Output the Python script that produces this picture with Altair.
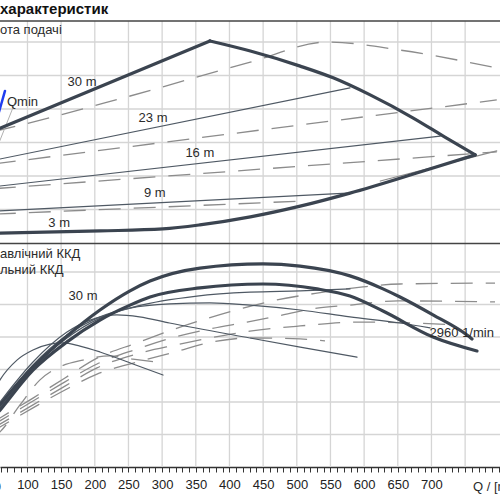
import altair as alt
import pandas as pd

FONT = "Liberation Sans"
Q_DOMAIN = [59.2, 801.8]
H_DOMAIN = [-66.87, 72.54]
ETA_DOMAIN = [0, 143.69]

# ---------------- upper panel (head) ----------------
envTop_Q = [50, 371];  envTop_H = [33.5, 60.3]
envR_Q = [371, 431, 505, 554, 609, 673, 720, 765]
envR_H = [60.3, 57.3, 52.8, 49.3, 44.2, 37.3, 31.6, 26.3]
envB_Q = [50, 208, 301, 356, 431, 505, 579, 683, 765]
envB_H = [2.9, 3.6, 4.2, 5.4, 7.8, 11.0, 14.9, 21.2, 26.3]

h23_Q = [50, 579];  h23_H = [24.7, 46.3]
h16_Q = [50, 713];  h16_H = [16.8, 31.9]
h9_Q = [50, 575];   h9_H = [9.5, 14.9]

du1_Q = [50, 84, 242, 431, 546, 653, 791]; du1_H = [33.3, 34.9, 43.3, 54.0, 60.0, 57.6, 52.5]
du2_Q = [50, 797]; du2_H = [23.6, 42.7]
du3_Q = [50, 797]; du3_H = [16.2, 27.2]
du4_Q = [50, 505]; du4_H = [8.6, 12.5]
gray_Q = [624, 797]; gray_H = [18.5, 27.5]
slant_Q = [83, 54.7]; slant_H = [42.7, 28.4]
qmin_Q = [66.6, 57.7]; qmin_H = [45.4, 39.1]

# ---------------- lower panel (efficiency) ----------------
A_Q = [44.3, 59.2, 108.2, 158.7, 207.7, 252.3, 282, 356.2, 449.8, 504.8, 579, 628, 653.3, 702.3, 752.8, 760.2]
A_E = [15.1, 19.1, 30.8, 40.3, 48.3, 54.2, 57.2, 61.2, 62.5, 61.8, 58.8, 54.8, 52.3, 46.8, 40.6, 39.4]
B_Q = [44.3, 59.2, 108.2, 158.7, 207.7, 252.3, 282, 356.2, 449.8, 530, 579, 628, 702.3, 767.6]
B_E = [13.8, 17.5, 29.8, 38.5, 45.2, 49.8, 52.3, 55.1, 56.3, 54.8, 52.6, 48.0, 40.0, 35.7]

C1_Q = [47.3, 59.2, 84.4, 108.2, 133.5, 152.8, 178, 207.7, 256.7, 301.3]
C1_E = [22.2, 26.8, 32.9, 36.0, 37.8, 38.2, 37.2, 35.4, 31.7, 28.3]
C2_Q = [44.3, 59.2, 108.2, 158.7, 192.9, 232.9, 266.3, 311, 430.5, 505, 589.4]
C2_E = [16.0, 20.0, 32.3, 41.5, 45.2, 46.8, 46.2, 44.3, 39.7, 36.9, 33.8]
C3_Q = [44.3, 59.2, 108.2, 158.7, 207.7, 252.3, 311, 371, 430.5, 505, 579, 653.3, 698]
C3_E = [15.0, 19.1, 31.4, 40.6, 46.2, 48.9, 50.2, 50.5, 49.8, 48.3, 46.2, 44.3, 42.8]
C4_Q = [44.3, 59.2, 108.2, 158.7, 207.7, 262.7, 351.7, 430.5, 505, 579]
C4_E = [14.5, 18.2, 30.5, 39.7, 45.8, 49.5, 52.6, 53.8, 54.2, 54.8]

D1_Q = [44.3, 59.2, 108.2, 155.7, 203.3, 262.7, 319.1, 368.1, 420.1, 470.6, 530, 598.3, 653.3, 794.4]
D1_E = [13.2, 15.1, 21.2, 27.4, 33.5, 38.2, 42.5, 45.8, 48.9, 51.4, 53.5, 55.4, 56.3, 56.6]
D2_Q = [44.3, 59.2, 108.2, 155.7, 203.3, 262.7, 319.1, 371, 426, 479.5, 530, 579, 650.3, 794.4]
D2_E = [12.4, 14.2, 20.3, 26.2, 31.7, 36.3, 40.0, 42.5, 44.6, 46.8, 48.9, 49.8, 51.1, 50.8]
D3_Q = [44.3, 59.2, 108.2, 155.7, 203.3, 262.7, 319.1, 371, 430.5, 505, 589.4, 672.6, 735]
D3_E = [11.4, 13.2, 19.1, 24.9, 30.5, 34.8, 37.5, 39.7, 41.8, 43.4, 44.6, 44.3, 43.7]
D4_Q = [44.3, 59.2, 108.2, 155.7, 203.3, 262.7, 319.1, 368.1, 430.5, 505, 541.9]
D4_E = [10.5, 12.3, 18.2, 23.7, 28.6, 32.3, 35.4, 38.2, 39.7, 39.4, 38.8]
D5_Q = [44.3, 59.2, 88.9, 118.6, 151.3, 182.5, 222.6, 256.7, 301.3]
D5_E = [8.5, 10.8, 19.1, 26.8, 31.1, 32.9, 34.2, 33.2, 32.0]

grid_Q = [100, 150, 200, 250, 300, 350, 400, 450, 500, 550, 600, 650, 700, 750]
grid_H = [10, 20, 30, 40, 50, 60]
grid_E = [10, 20, 30, 40, 50, 60]
tick_Q = list(range(60, 801, 10))


def long(d):
    rows = []
    for name, (qs, vs) in d.items():
        for i, (q, v) in enumerate(zip(qs, vs)):
            rows.append({"s": name, "i": i, "Q": q, "v": v})
    return pd.DataFrame(rows)


x_axis = alt.Axis(values=tick_Q, labelExpr="(datum.value % 50 == 0 && datum.value >= 100 && datum.value <= 700) ? datum.label : ''",
                  tickSize=5, tickColor="#333333", tickWidth=1, domainColor="#333333", domainWidth=1.5,
                  labelFontSize=13, labelColor="#222222", labelFont=FONT, labelPadding=6, grid=False,
                  title=None, labelOverlap=False, labelFlush=False)
X = alt.X("Q:Q", scale=alt.Scale(domain=Q_DOMAIN, nice=False, zero=False), axis=x_axis)
YH = alt.Y("v:Q", scale=alt.Scale(domain=H_DOMAIN, nice=False, zero=False), axis=None)
YE = alt.Y("v:Q", scale=alt.Scale(domain=ETA_DOMAIN, nice=False, zero=False), axis=None)

GRID = "#d5d5d5"
DARK = "#3b4450"
THIN = "#4f5964"
DASH = "#8c8c8c"


def lines(d, yenc, color, width, dash=None, interp="linear"):
    kw = dict(color=color, strokeWidth=width, clip=True, interpolate=interp, strokeCap="round")
    if dash:
        kw["strokeDash"] = dash
        kw["strokeCap"] = "butt"
    return alt.Chart(long(d)).mark_line(**kw).encode(x=X, y=yenc, detail="s:N", order="i:Q")


vgrid = alt.Chart(pd.DataFrame({"Q": grid_Q, "y0": 0, "y1": 137.2})).mark_rule(color=GRID, strokeWidth=1.3).encode(
    x=X, y=alt.Y("y0:Q", scale=alt.Scale(domain=ETA_DOMAIN, nice=False, zero=False), axis=None), y2="y1")
hgrid_up = alt.Chart(pd.DataFrame({"v": grid_H})).mark_rule(color=GRID, strokeWidth=1.3).encode(y=YH)
hgrid_lo = alt.Chart(pd.DataFrame({"v": grid_E})).mark_rule(color=GRID, strokeWidth=1.3).encode(y=YE)
borders = alt.Chart(pd.DataFrame({"v": [66.27, -0.15]})).mark_rule(color="#444444", strokeWidth=1.6).encode(y=YH)

up_dash1 = lines({"du1": (du1_Q, du1_H)}, YH, DASH, 1.3, [22, 13], "monotone")
up_dash = lines({"du2": (du2_Q, du2_H), "du3": (du3_Q, du3_H), "du4": (du4_Q, du4_H)}, YH, DASH, 1.3, [22, 13])
up_gray = lines({"g": (gray_Q, gray_H)}, YH, DASH, 1.2)
up_slant = lines({"sl": (slant_Q, slant_H)}, YH, "#b0b0b0", 1.0)
up_thin = lines({"h23": (h23_Q, h23_H), "h16": (h16_Q, h16_H), "h9": (h9_Q, h9_H)}, YH, THIN, 1.2)
up_env_top = lines({"top": (envTop_Q, envTop_H)}, YH, DARK, 3.2)
up_env_curves = lines({"right": (envR_Q, envR_H), "bottom": (envB_Q, envB_H)}, YH, DARK, 3.2, interp="monotone")
up_qmin = lines({"qmin": (qmin_Q, qmin_H)}, YH, "#1f3df0", 2.5)

lo_dash = lines({"D1": (D1_Q, D1_E), "D2": (D2_Q, D2_E), "D3": (D3_Q, D3_E), "D4": (D4_Q, D4_E), "D5": (D5_Q, D5_E)},
                YE, DASH, 1.3, [22, 13], "monotone")
lo_thin = lines({"C1": (C1_Q, C1_E), "C2": (C2_Q, C2_E), "C3": (C3_Q, C3_E), "C4": (C4_Q, C4_E)}, YE, THIN, 1.2,
                interp="monotone")
lo_thick = lines({"A": (A_Q, A_E), "B": (B_Q, B_E)}, YE, DARK, 3.2, interp="monotone")


def texts(labels, qs, vs, yenc, align="center", size=13, weight="normal", color="#2b2b2b"):
    df = pd.DataFrame({"t": labels, "Q": qs, "v": vs})
    return alt.Chart(df).mark_text(align=align, baseline="middle", font=FONT, fontSize=size,
                                   fontWeight=weight, color=color).encode(x=X, y=yenc, text="t:N")


up_lbl = texts(["30 m", "23 m", "16 m", "9 m", "3 m"], [181, 286.5, 356, 289, 147], [48.1, 37.3, 26.9, 14.9, 6.0], YH)
up_left = texts(["Qmin", "ота подачі"], [69.6, 59.2], [42.1, 63.6], YH, align="left")
title = texts(["характеристик"], [59.2], [70.0], YH, align="left", size=15, weight="bold", color="#111111")
lo_left = texts(["авлічний ККД", "льний ККД"], [59.2, 59.2], [65.5, 60.6], YE, align="left")
lo_lbl = texts(["30 m", "2960 1/min"], [182.5, 745], [52.6, 41.2], YE)
ax_50 = texts(["50"], [50], [-6.15], YE)
ax_title = texts(["Q / [m³/h]"], [761.7], [-6.15], YE, align="left")

chart = alt.layer(
    vgrid, hgrid_up, hgrid_lo,
    up_dash1, up_dash, up_gray, up_slant, up_thin, up_env_top, up_env_curves, up_qmin,
    lo_dash, lo_thin, lo_thick,
    borders,
    up_lbl, up_left, title, lo_left, lo_lbl, ax_50, ax_title,
).resolve_scale(y="independent").properties(
    width=500, height=467,
    autosize=alt.AutoSizeParams(type="none"),
    padding={"left": 0, "top": 0, "right": 0, "bottom": 33},
    background="white",
).configure_view(stroke=None)

chart.save("out.html", embed_options={"renderer": "svg", "actions": False})
